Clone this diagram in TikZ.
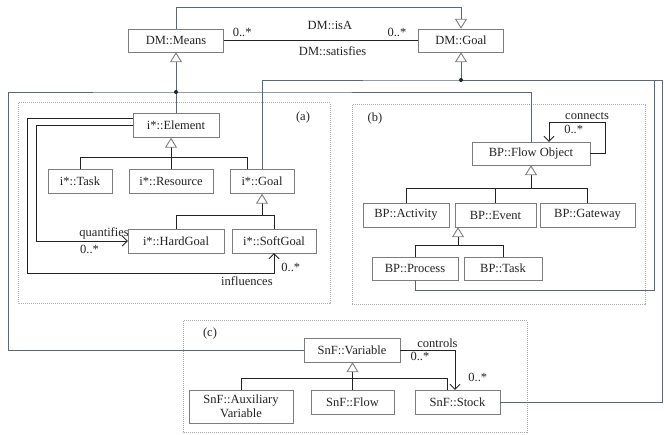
\documentclass[tikz,border=0pt]{standalone}
\usepackage{fontspec}
\setmainfont{Liberation Serif}
\usetikzlibrary{arrows.meta, positioning}
\definecolor{ink}{RGB}{35,35,35}
\definecolor{boxgray}{RGB}{125,125,125}
\definecolor{linkblue}{RGB}{88,102,128}
\definecolor{pkggray}{RGB}{170,170,170}
\tikzset{
cls/.style={draw=boxgray, fill=white, text=ink, minimum height=24pt, inner sep=2pt}, % the class boxes
link/.style={draw=linkblue, line width=0.9pt}, % lines that run between the packages
genl/.style={draw=ink, line width=0.9pt}, % generalisation lines inside a package
gen/.style={-{Triangle[length=10pt, width=12pt, fill=white, color=boxgray]}}, % open head of a generalisation
assoc/.style={draw=ink, line width=0.9pt, -{Straight Barb[length=5pt, width=10pt]}}, % directed association
pkg/.style={draw=pkggray, densely dotted, line width=1pt}, % frame of a package
lbl/.style={text=ink, inner sep=1pt}, % texts on the connectors
}

\begin{document}
\begin{tikzpicture}[x=1pt, y=-1pt, font=\fontsize{12.5}{14}\selectfont]
\useasboundingbox (0,0) rectangle (664,435);

% packages
\draw[pkg] (18,103) rectangle (330,304);
\draw[pkg] (352,105) rectangle (645,305);
\draw[pkg] (183,321) rectangle (527,432);
\node[lbl] (taga) at (303,117) {(a)};
\node[lbl] (tagb) at (375,118) {(b)};
\node[lbl] (tagc) at (210,333) {(c)};

% DM
\node[cls, minimum width=95pt, minimum height=23pt] (means) at (176,40.5) {DM::Means};
\node[cls, minimum width=85pt, minimum height=23pt] (dmgoal) at (461,40.5) {DM::Goal};

% (a) i*
\node[cls, minimum width=86pt] (element) at (176,125.5) {i*::Element};
\node[cls, minimum width=64pt] (itask) at (80,181.5) {i*::Task};
\node[cls, minimum width=84pt] (resource) at (171,181.5) {i*::Resource};
\node[cls, minimum width=64pt] (igoal) at (262,181.5) {i*::Goal};
\node[cls, minimum width=96pt] (hard) at (176,241) {i*::HardGoal};
\node[cls, minimum width=84pt] (soft) at (274,241) {i*::SoftGoal};

% (b) BP
\node[cls, minimum width=118pt, minimum height=23pt] (flow) at (531,153.5) {BP::Flow Object};
\node[cls, minimum width=86pt] (activity) at (406,215) {BP::Activity};
\node[cls, minimum width=81pt] (event) at (495.5,215) {BP::Event};
\node[cls, minimum width=95pt] (gateway) at (587.5,215) {BP::Gateway};
\node[cls, minimum width=86pt, minimum height=23pt] (process) at (415,268.5) {BP::Process};
\node[cls, minimum width=78pt, minimum height=23pt] (bptask) at (503,268.5) {BP::Task};

% (c) SnF
\node[cls, minimum width=96pt] (variable) at (352,350) {SnF::Variable};
\node[cls, minimum width=104pt, minimum height=33pt, align=center, inner sep=1pt,
  font=\fontsize{12.5}{13.5}\selectfont] (aux) at (241,406.5) {SnF::Auxiliary\\Variable};
\node[cls, minimum width=83pt] (sflow) at (352.5,402) {SnF::Flow};
\node[cls, minimum width=85pt] (stock) at (457.5,402) {SnF::Stock};

% DM links
\draw[link, gen] (means.north) -- ++(0,-21) -| node[lbl, pos=0.27, below=12pt] {DM::isA} (dmgoal.north);
\draw[genl] (means) -- node[lbl, pos=0.095, above=2pt] {0..*} node[lbl, pos=0.89, above=2pt] {0..*}
  node[lbl, pos=0.56, below=5pt] {DM::satisfies} (dmgoal);

% means side
\coordinate (jm) at (176,92);
\coordinate (lc) at (8,92);
\draw[link, gen] (element.north) -- (means.south);
\draw[link] (lc) -- (jm) -| (flow.north);
\draw[link] (lc) |- (variable.west);
\fill[ink] (jm) circle (2pt);

% goal side
\coordinate (jg) at (461,80);
\coordinate (rc) at (662,80);
\coordinate (rb) at (654,290);
\draw[link, gen] (jg) -- (dmgoal.south);
\draw[link] (igoal.north) |- (jg) -- (rc) |- (stock.east);
\draw[link] (jg) -| (rb) -| (process.south);
\fill[ink] (jg) circle (2pt);

% (a) generalisations
\coordinate (gogen) at (262,216);
\draw[genl] (itask.north) -- ++(0,-12) -| ([xshift=-15pt]igoal.north);
\draw[genl, gen] (resource.north) -- (resource.north |- element.south);
\draw[genl] (hard.north) -- ++(0,-13) -| (soft.north);
\draw[genl, gen] (gogen) -- (gogen |- igoal.south);

% (a) associations
\draw[assoc] (element.west) -- ++(-96,0) |- node[lbl, pos=0.87, above=0pt] {quantifies}
  node[lbl, pos=0.79, below=3pt] {0..*} (hard.west);
\draw[assoc] ([yshift=7.5pt]element.west) -- ++(-105,0) |- node[lbl, pos=0.945, below=2pt] {influences}
  ([yshift=-20pt]soft.south) -- node[lbl, pos=0.3, right=6pt] {0..*} (soft.south);

% (b)
\coordinate (flgen) at (531,189);
\coordinate (evgen) at (458,246);
\draw[assoc] (flow.east) -| (605,122) -| node[lbl, pos=0.16, above=1pt] {connects}
  node[lbl, pos=0.28, below=2pt] {0..*} ([xshift=18pt]flow.north);
\draw[genl] (activity.north) -- ++(0,-14) -| (gateway.north);
\draw[genl] (event.north) -- ++(0,-14);
\draw[genl, gen] (flgen) -- (flgen |- flow.south);
\draw[genl] (process.north) -- ++(0,-11) -| (bptask.north);
\draw[genl, gen] (evgen) -- (evgen |- event.south);

% (c)
\draw[genl] (aux.north) -- ++(0,-11) -| ([xshift=-10pt]stock.north);
\draw[genl, gen] (sflow.north) -- (sflow.north |- variable.south);
\draw[assoc] (variable.east) -| node[lbl, pos=0.34, above=1pt] {controls}
  node[lbl, pos=0.18, below=1pt] {0..*} node[lbl, pos=0.85, right=12pt] {0..*} ([xshift=-2.5pt]stock.north);

\end{tikzpicture}
\end{document}
